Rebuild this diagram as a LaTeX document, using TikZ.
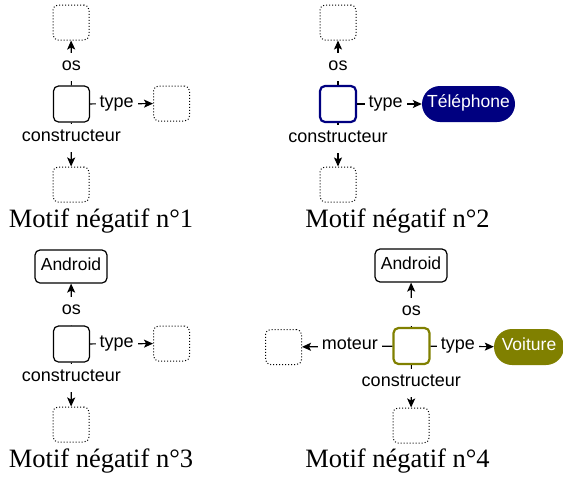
\documentclass[tikz,border=0pt]{standalone}
\usepackage{fontspec}
\setmainfont{Liberation Serif}
\setsansfont{Liberation Sans}
\usetikzlibrary{arrows.meta}
\definecolor{navyc}{HTML}{000080}
\definecolor{olivec}{HTML}{808000}
\begin{document}
\begin{tikzpicture}[x=1pt,y=-1pt,
  varbox/.style={draw, dotted, line width=1pt, rounded corners=5pt, minimum width=36pt, minimum height=35pt, inner sep=0pt},
  ctr/.style={draw, rounded corners=5pt, minimum width=36pt, minimum height=36pt, inner sep=0pt, line width=1.2pt},
  lit/.style={draw, line width=1.2pt, rounded corners=5pt, minimum height=33pt, minimum width=72pt, inner sep=2pt, text height=0.9em, text depth=0.2em, font=\sffamily\fontsize{17.5}{20}\selectfont},
  pill/.style={rounded corners=18pt, minimum height=36pt, inner sep=0pt, text=white, text height=0.9em, text depth=0.2em, font=\sffamily\fontsize{17.5}{20}\selectfont},
  rel/.style={-{Stealth[length=9pt,width=8pt,inset=2pt]}, line width=1.2pt},
  lbl/.style={fill=white, inner xsep=4pt, inner ysep=0pt, minimum height=28pt, text height=0.9em, text depth=0.2em, font=\sffamily\fontsize{18}{20}\selectfont},
  captxt/.style={font=\fontsize{26.5}{30}\selectfont, anchor=base}
]
\useasboundingbox (0,0) rectangle (563,477);

% Panel 1
\node[ctr] (c1) at (71.5,104) {};
\node[varbox] (o1) at (71,22.5) {};
\node[varbox] (t1) at (171.5,103.5) {};
\node[varbox] (k1) at (71,184.5) {};
\draw[rel] (c1) -- node[lbl,pos=0.4] {os} (o1);
\draw[rel] (c1) -- node[lbl,pos=0.42] {type} (t1);
\draw[rel] (c1) -- node[lbl,pos=0.36] {constructeur} (k1);
\node[captxt] (m1) at (101,227) {Motif négatif n°1};

% Panel 2
\node[ctr, draw=navyc, line width=2.2pt] (c2) at (338,104) {};
\node[varbox] (o2) at (338,22.5) {};
\node[pill, fill=navyc, minimum width=93pt] (t2) at (468.5,104) {Téléphone};
\node[varbox] (k2) at (338,184.5) {};
\draw[rel] (c2) -- node[lbl,pos=0.4] {os} (o2);
\draw[rel] (c2) -- node[lbl,pos=0.44] {type} (t2);
\draw[rel] (c2) -- node[lbl,pos=0.36] {constructeur} (k2);
\node[captxt] (m2) at (397.5,227) {Motif négatif n°2};

% Panel 3
\node[ctr] (c3) at (71.5,344) {};
\node[lit] (o3) at (71,266.5) {Android};
\node[varbox] (t3) at (171.5,343.5) {};
\node[varbox] (k3) at (71,424.5) {};
\draw[rel] (c3) -- node[lbl,pos=0.35] {os} (o3);
\draw[rel] (c3) -- node[lbl,pos=0.42] {type} (t3);
\draw[rel] (c3) -- node[lbl,pos=0.36] {constructeur} (k3);
\node[captxt] (m3) at (101,467) {Motif négatif n°3};

% Panel 4
\node[ctr, draw=olivec, line width=2.2pt] (c4) at (411.5,346) {};
\node[lit] (o4) at (411,265.5) {Android};
\node[varbox] (l4) at (283.5,347) {};
\node[pill, fill=olivec, minimum width=70pt] (t4) at (529,347) {Voiture};
\node[varbox] (k4) at (411,425.5) {};
\draw[rel] (c4) -- node[lbl,pos=0.33] {os} (o4);
\draw[rel] (c4) -- node[lbl,pos=0.47] {moteur} (l4);
\draw[rel] (c4) -- node[lbl,pos=0.43] {type} (t4);
\draw[rel] (c4) -- node[lbl,pos=0.43] {constructeur} (k4);
\node[captxt] (m4) at (397.5,467) {Motif négatif n°4};
\end{tikzpicture}
\end{document}
